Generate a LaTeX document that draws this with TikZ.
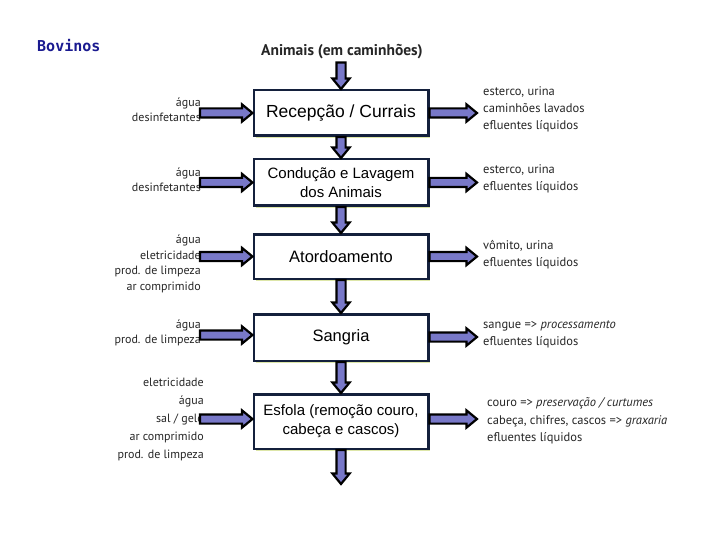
\documentclass[tikz,border=0pt]{standalone}
\usepackage{fontspec}
\setmainfont{Liberation Sans}
\newfontfamily\lblfont{PT Sans}
\newfontfamily\bovfont{DejaVu Sans Mono}
\usetikzlibrary{calc,shadows}
\definecolor{arrowfill}{HTML}{7878C8}
\definecolor{boxline}{HTML}{14203C}
\definecolor{lbl}{HTML}{262626}
\definecolor{navy}{HTML}{1A1A90}
\definecolor{shadowc}{HTML}{DDE6A8}
\def\aw{4.6pt}
\def\ahw{8.6pt}
\def\ahl{10.5pt}
\tikzset{
  stage/.style={draw=boxline, line width=2.5pt, fill=white, minimum width=174.5pt,
    align=center, inner sep=2pt,
    drop shadow={shadow xshift=2pt, shadow yshift=-2.5pt, fill=shadowc, opacity=1}},
  inlbl/.style={anchor=east, align=right, text=lbl, inner sep=0pt},
  outlbl/.style={anchor=west, align=left, text=lbl, inner sep=0pt},
  barrow/.style={draw=black, line width=2.2pt, fill=arrowfill, line join=miter,
    to path={
      ($(\tikztostart)!\aw!90:(\tikztotarget)$)
      -- ($($(\tikztotarget)!\ahl!(\tikztostart)$)!\aw!90:(\tikztotarget)$)
      -- ($($(\tikztotarget)!\ahl!(\tikztostart)$)!\ahw!90:(\tikztotarget)$)
      -- (\tikztotarget)
      -- ($($(\tikztotarget)!\ahl!(\tikztostart)$)!\ahw!-90:(\tikztotarget)$)
      -- ($($(\tikztotarget)!\ahl!(\tikztostart)$)!\aw!-90:(\tikztotarget)$)
      -- ($(\tikztostart)!\aw!-90:(\tikztotarget)$)
      -- cycle}},
}
\begin{document}
\begin{tikzpicture}[x=1pt,y=-1pt]
\useasboundingbox[fill=white] (0,0) rectangle (720,540);

% title texts
\node[anchor=west, inner sep=0pt, text=navy, font=\bovfont\bfseries\fontsize{15}{18}\selectfont] (bov) at (37,46) {Bovinos};
\node[inner sep=0pt, text=lbl, font=\lblfont\bfseries\fontsize{15.5}{18}\selectfont] (anim) at (342,52) {Animais (em caminhões)};

% stages
\node[stage, minimum height=45.5pt, font=\fontsize{17.5}{20}\selectfont] (b1) at (341,113) {Recepção / Currais};
\node[stage, minimum height=46.5pt, font=\fontsize{15}{19.5}\selectfont] (b2) at (341,182.5) {Condução e Lavagem\\dos Animais};
\node[stage, minimum height=44.5pt, font=\fontsize{16.5}{20}\selectfont] (b3) at (341,256.5) {Atordoamento};
\node[stage, minimum height=46.5pt, font=\fontsize{16.5}{20}\selectfont] (b4) at (341,337.5) {Sangria};
\node[stage, minimum height=54.5pt, font=\fontsize{15}{19}\selectfont] (b5) at (341,421.5) {Esfola (remoção couro,\\cabeça e cascos)};

% inputs
\node[inlbl, font=\lblfont\fontsize{12}{15.5}\selectfont] (in1) at (201,110) {água\\desinfetantes};
\node[inlbl, font=\lblfont\fontsize{12}{15.5}\selectfont] (in2) at (201,180) {água\\desinfetantes};
\node[inlbl, font=\lblfont\fontsize{12}{15.5}\selectfont] (in3) at (201,264) {água\\eletricidade\\prod. de limpeza\\ar comprimido};
\node[inlbl, font=\lblfont\fontsize{12}{15.5}\selectfont] (in4) at (201,333) {água\\prod. de limpeza};
\node[inlbl, font=\lblfont\fontsize{12}{18}\selectfont] (in5) at (204,419) {eletricidade\\água\\sal / gelo\\ar comprimido\\prod. de limpeza};

% outputs
\node[outlbl, font=\lblfont\fontsize{12.5}{17}\selectfont] (out1) at (483,109) {esterco, urina\\caminhões lavados\\efluentes líquidos};
\node[outlbl, font=\lblfont\fontsize{12.5}{17}\selectfont] (out2) at (483,179) {esterco, urina\\efluentes líquidos};
\node[outlbl, font=\lblfont\fontsize{12.5}{17}\selectfont] (out3) at (483,255) {vômito, urina\\efluentes líquidos};
\node[outlbl, font=\lblfont\fontsize{12.5}{17}\selectfont] (out4) at (483,334) {sangue => \textit{processamento}\\efluentes líquidos};
\node[outlbl, font=\lblfont\fontsize{12.5}{17.5}\selectfont] (out5) at (487,421) {couro => \textit{preservação / curtumes}\\cabeça, chifres, cascos => \textit{graxaria}\\efluentes líquidos};

% free ends
\coordinate (i1) at (200,113);
\coordinate (i2) at (200,182.5);
\coordinate (i3) at (200,256.5);
\coordinate (i4) at (200,335);
\coordinate (i5) at (200,419);
\coordinate (o1) at (477,113);
\coordinate (o2) at (477,182.5);
\coordinate (o3) at (477,256.5);
\coordinate (o4) at (477,337);
\coordinate (o5) at (477,419);
\coordinate (endc) at (341,484);

% vertical flow
\draw[barrow] (anim.south) ++(-1,3) coordinate (as) (as) to (b1.north);
\draw[barrow] (b1.south) to (b2.north);
\draw[barrow] (b2.south) to (b3.north);
\draw[barrow] (b3.south) to (b4.north);
\draw[barrow] (b4.south) to (b5.north);
\draw[barrow] (b5.south) to (endc);

% inputs arrows
\draw[barrow] (i1) to (b1.west |- i1);
\draw[barrow] (i2) to (b2.west |- i2);
\draw[barrow] (i3) to (b3.west |- i3);
\draw[barrow] (i4) to (b4.west |- i4);
\draw[barrow] (i5) to (b5.west |- i5);

% output arrows
\draw[barrow] (b1.east |- o1) to (o1);
\draw[barrow] (b2.east |- o2) to (o2);
\draw[barrow] (b3.east |- o3) to (o3);
\draw[barrow] (b4.east |- o4) to (o4);
\draw[barrow] (b5.east |- o5) to (o5);
\end{tikzpicture}
\end{document}
